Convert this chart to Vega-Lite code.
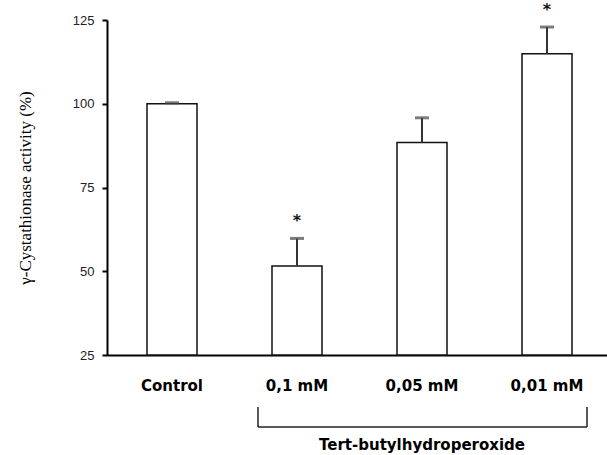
{
  "$schema": "https://vega.github.io/schema/vega-lite/v6.json",
  "width": 505,
  "height": 335,
  "autosize": {"type": "none"},
  "padding": {"left": 107, "top": 20, "right": 0, "bottom": 100},
  "background": "white",
  "config": {"view": {"stroke": null}},
  "data": {
    "values": [
      {"group": "Control", "activity": 100, "upper": 100.3, "sig": ""},
      {"group": "0,1 mM", "activity": 51.6, "upper": 59.8, "sig": "*"},
      {"group": "0,05 mM", "activity": 88.4, "upper": 95.8, "sig": ""},
      {"group": "0,01 mM", "activity": 114.9, "upper": 122.9, "sig": "*"}
    ]
  },
  "encoding": {
    "x": {
      "field": "group",
      "type": "nominal",
      "sort": null,
      "scale": {"paddingInner": 0.6, "paddingOuter": 0.32},
      "axis": {
        "title": null,
        "ticks": false,
        "tickSize": 0,
        "labelAngle": 0,
        "labelPadding": 23,
        "labelFont": "DejaVu Sans",
        "labelFontWeight": "bold",
        "labelFontSize": 15,
        "labelColor": "#000",
        "domainColor": "#000",
        "domainWidth": 2
      }
    }
  },
  "layer": [
    {
      "mark": {"type": "bar", "fill": "white", "stroke": "#111", "strokeWidth": 1.5},
      "encoding": {
        "y": {
          "field": "activity",
          "type": "quantitative",
          "scale": {"domain": [25, 125], "zero": false, "nice": false},
          "axis": {
            "title": "γ-Cystathionase activity (%)",
            "titleFont": "Liberation Serif",
            "titleFontWeight": "normal",
            "titleFontSize": 17,
            "titleColor": "#000",
            "titlePadding": 38,
            "values": [25, 50, 75, 100, 125],
            "grid": false,
            "tickSize": 5,
            "tickWidth": 2,
            "tickColor": "#000",
            "domainColor": "#000",
            "domainWidth": 2,
            "labelFont": "Liberation Sans",
            "labelFontSize": 13,
            "labelColor": "#222",
            "labelPadding": 8
          }
        },
        "y2": {"datum": 25}
      }
    },
    {
      "mark": {"type": "rule", "stroke": "#333", "strokeWidth": 2},
      "encoding": {
        "y": {"field": "activity", "type": "quantitative"},
        "y2": {"field": "upper"}
      }
    },
    {
      "mark": {"type": "tick", "color": "#444", "size": 14, "thickness": 3, "orient": "horizontal"},
      "encoding": {
        "y": {"field": "upper", "type": "quantitative"}
      }
    },
    {
      "mark": {"type": "text", "font": "DejaVu Sans", "fontSize": 16, "fontWeight": "bold", "dy": -17, "color": "#111"},
      "encoding": {
        "y": {"field": "upper", "type": "quantitative"},
        "text": {"field": "sig"}
      }
    },
    {
      "data": {"values": [{"from": "0,1 mM", "to": "0,01 mM"}]},
      "mark": {"type": "rule", "stroke": "#222", "strokeWidth": 1.5, "xOffset": -39, "x2Offset": 40, "yOffset": 72},
      "encoding": {
        "x": {"field": "from", "type": "nominal"},
        "x2": {"field": "to"},
        "y": {"datum": 25, "type": "quantitative"}
      }
    },
    {
      "data": {"values": [{"end": "0,1 mM"}]},
      "mark": {"type": "rule", "stroke": "#222", "strokeWidth": 1.5, "xOffset": -39, "yOffset": 52, "y2Offset": 72},
      "encoding": {
        "x": {"field": "end", "type": "nominal"},
        "y": {"datum": 25, "type": "quantitative"},
        "y2": {"datum": 25}
      }
    },
    {
      "data": {"values": [{"end": "0,01 mM"}]},
      "mark": {"type": "rule", "stroke": "#222", "strokeWidth": 1.5, "xOffset": 40, "yOffset": 52, "y2Offset": 72},
      "encoding": {
        "x": {"field": "end", "type": "nominal"},
        "y": {"datum": 25, "type": "quantitative"},
        "y2": {"datum": 25}
      }
    },
    {
      "data": {"values": [{"label": "Tert-butylhydroperoxide", "at": "0,05 mM"}]},
      "mark": {"type": "text", "font": "DejaVu Sans", "fontWeight": "bold", "fontSize": 15, "yOffset": 90, "color": "#000"},
      "encoding": {
        "x": {"field": "at", "type": "nominal"},
        "y": {"datum": 25, "type": "quantitative"},
        "text": {"field": "label"}
      }
    }
  ]
}
